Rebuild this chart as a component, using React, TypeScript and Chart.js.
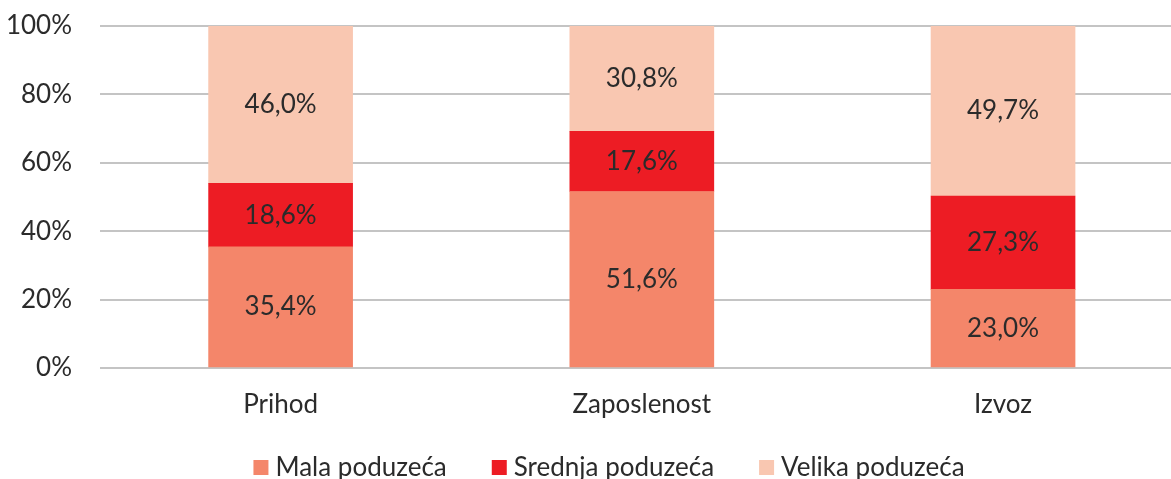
import React, { useEffect, useRef } from "react";
import { Chart, registerables } from "chart.js";

Chart.register(...registerables);

const categories = ["Prihod", "Zaposlenost", "Izvoz"];
const seriesNames = ["Mala poduzeća", "Srednja poduzeća", "Velika poduzeća"];
const malaValues = [35.4, 51.6, 23.0];
const srednjaValues = [18.6, 17.6, 27.3];
const velikaValues = [46.0, 30.8, 49.7];
const yTicks = [0, 20, 40, 60, 80, 100];

const colors = ["#F4866A", "#ED1C24", "#F9C7B1"];
const FONT = "Lato";
const FS = 26;
const TEXT = "#2b2b2b";

const fmt = (v: number) => v.toFixed(1).replace(".", ",") + "%";

const labelsPlugin = {
  id: "barLabels",
  afterDatasetsDraw(chart: any) {
    const ctx = chart.ctx;
    ctx.save();
    ctx.font = `${FS}px ${FONT}`;
    ctx.fillStyle = TEXT;
    ctx.textAlign = "center";
    ctx.textBaseline = "middle";
    chart.data.datasets.forEach((ds: any, di: number) => {
      const meta = chart.getDatasetMeta(di);
      meta.data.forEach((el: any, i: number) => {
        const v = ds.data[i].y;
        const y = (el.y + el.base) / 2;
        ctx.fillText(fmt(v), el.x, y);
      });
    });
    ctx.restore();
  },
};

const legendPlugin = {
  id: "customLegend",
  afterDraw(chart: any) {
    const ctx = chart.ctx;
    ctx.save();
    ctx.font = `${FS}px ${FONT}`;
    ctx.textBaseline = "middle";
    ctx.textAlign = "left";
    const box = 15;
    const gapText = 7;
    const gapItem = 45;
    const items = chart.data.datasets.map((ds: any) => ({
      label: ds.label,
      color: ds.backgroundColor,
      w: box + gapText + ctx.measureText(ds.label).width,
    }));
    const total = items.reduce((s: number, it: any) => s + it.w, 0) + gapItem * (items.length - 1);
    let x = 609 - total / 2;
    const cy = 467.5;
    items.forEach((it: any) => {
      ctx.fillStyle = it.color;
      ctx.fillRect(x, cy - box / 2, box, box);
      ctx.fillStyle = TEXT;
      ctx.fillText(it.label, x + box + gapText, cy);
      x += it.w + gapItem;
    });
    ctx.restore();
  },
};

export default function App() {
  const ref = useRef<HTMLCanvasElement>(null);
  useEffect(() => {
    if (!ref.current) return;
    const mk = (vals: number[]) => vals.map((y, i) => ({ x: i, y }));
    const chart = new Chart(ref.current, {
      type: "bar",
      data: {
        datasets: [
          { label: seriesNames[0], data: mk(malaValues), backgroundColor: colors[0] },
          { label: seriesNames[1], data: mk(srednjaValues), backgroundColor: colors[1] },
          { label: seriesNames[2], data: mk(velikaValues), backgroundColor: colors[2] },
        ] as any,
      },
      options: {
        animation: false,
        responsive: false,
        layout: { padding: { top: 26, right: 0, left: 0, bottom: 0 } },
        datasets: { bar: { barThickness: 144 } } as any,
        plugins: { legend: { display: false }, tooltip: { enabled: false } },
        scales: {
          x: {
            type: "linear",
            stacked: true,
            min: -0.5,
            max: 2.465,
            offset: false,
            grid: { display: false, drawTicks: false },
            border: { display: false },
            afterBuildTicks: (s: any) => {
              s.ticks = categories.map((_, i) => ({ value: i }));
            },
            afterFit: (s: any) => {
              s.height = 111;
              s.paddingLeft = 0;
              s.paddingRight = 0;
            },
            ticks: {
              padding: 21,
              color: TEXT,
              font: { family: FONT, size: FS },
              callback: (v: any) => categories[v] ?? "",
              maxRotation: 0,
              autoSkip: false,
            },
          },
          y: {
            stacked: true,
            min: 0,
            max: 100,
            grid: { color: "#C4C4C4", lineWidth: 2, drawTicks: false },
            border: { display: false },
            afterBuildTicks: (s: any) => {
              s.ticks = yTicks.map((v) => ({ value: v }));
            },
            afterFit: (s: any) => {
              s.width = 100;
              s.paddingTop = 0;
              s.paddingBottom = 0;
            },
            ticks: {
              padding: 28,
              color: TEXT,
              font: { family: FONT, size: FS },
              callback: (v: any) => v + "%",
            },
          },
        },
      },
      plugins: [labelsPlugin, legendPlugin],
    });
    return () => chart.destroy();
  }, []);
  return (
    <div style={{ position: "fixed", left: 0, top: 0, width: 1171, height: 479, background: "#fff" }}>
      <canvas ref={ref} width={1171} height={479} />
    </div>
  );
}
